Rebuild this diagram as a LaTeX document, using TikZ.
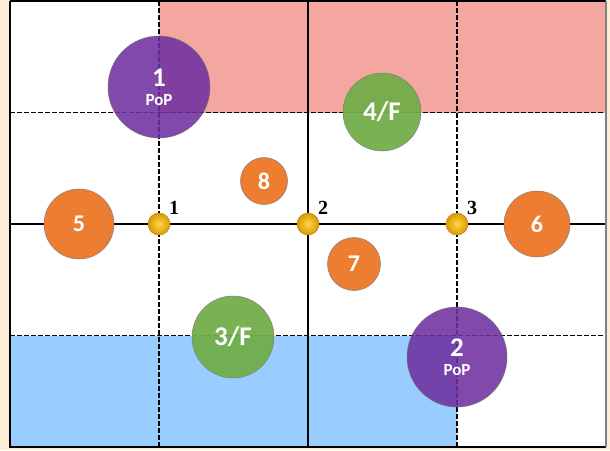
\documentclass[tikz,border=0pt]{standalone}
\usepackage{fontspec}
\setmainfont{Carlito}
\newfontfamily\serifnum{Liberation Serif}
\definecolor{cream}{HTML}{FDEDD6}
\definecolor{redzone}{HTML}{F4A6A0}
\definecolor{bluezone}{HTML}{99CCFF}
\definecolor{pop}{HTML}{7030A0}
\definecolor{fgreen}{HTML}{70AD47}
\definecolor{oran}{HTML}{ED7D31}
\definecolor{dotin}{HTML}{FFD54A}
\definecolor{dotout}{HTML}{D99A00}
\begin{document}
\begin{tikzpicture}[x=1pt,y=-1pt,
  grid/.style={black, line width=1.3pt},
  dgrid/.style={black, line width=1.3pt, dash pattern=on 4.5pt off 2.5pt},
  bigc/.style={circle, draw=black!55, line width=0.5pt, fill=pop, fill opacity=0.88, text opacity=1, text=white, font=\bfseries, align=center, inner sep=0pt},
  greenc/.style={circle, draw=black!50, line width=0.5pt, fill=fgreen, fill opacity=0.93, text opacity=1, text=white, font=\bfseries\fontsize{27}{28}\selectfont, inner sep=0pt},
  orc/.style={circle, draw=black!50, line width=0.5pt, fill=oran, text=white, font=\bfseries\fontsize{24}{26}\selectfont, inner sep=0pt},
  dotn/.style={circle, draw=dotout!80!black, line width=0.4pt, inner color=dotin, outer color=dotout, minimum size=22pt, inner sep=0pt},
  numlab/.style={font=\serifnum\bfseries\fontsize{20}{21}\selectfont, text=black}]
\useasboundingbox (0,0) rectangle (610,450);
\fill[cream] (0,0) rectangle (610,450);
\fill[white] (10,1) rectangle (606,447);
\fill[redzone] (159,1) rectangle (606,112.5);
\fill[bluezone] (10,335.5) rectangle (457,447);
% grid
\draw[dgrid] (10,112.5) -- (606,112.5);
\draw[dgrid] (10,335.5) -- (606,335.5);
\draw[dgrid] (159,1) -- (159,447);
\draw[dgrid] (457,1) -- (457,447);
\draw[grid] (10,224) -- (606,224);
\draw[grid] (308,1) -- (308,447);
% frame
\draw[black, line width=2pt] (10,1) -- (606,1);
\draw[black, line width=2pt] (10,1) -- (10,447) -- (606,447);
\draw[black!50, line width=2pt] (606,1) -- (606,447);
% circles
\node[bigc, minimum size=102pt] (p1) at (159,87) {\fontsize{27}{27}\selectfont 1\\[7pt]\fontsize{17}{17}\selectfont PoP};
\node[bigc, minimum size=100pt] (p2) at (457,357) {\fontsize{27}{27}\selectfont 2\\[7pt]\fontsize{17}{17}\selectfont PoP};
\node[greenc, minimum size=78pt] (f4) at (382,112) {4/F};
\node[greenc, minimum size=82pt] (f3) at (233,337) {3/F};
\node[orc, minimum size=70pt] (c5) at (79,224) {5};
\node[orc, minimum size=66pt] (c6) at (537,224) {6};
\node[orc, minimum size=47pt] (c8) at (264,181) {8};
\node[orc, minimum size=53pt] (c7) at (354,264) {7};
% dots
\node[dotn] (d1) at (159,224) {};
\node[dotn] (d2) at (308,224) {};
\node[dotn] (d3) at (457,224) {};
\node[numlab, anchor=south west, inner sep=0pt] (l1) at ([xshift=2pt,yshift=1pt]d1.north east) {1};
\node[numlab, anchor=south west, inner sep=0pt] (l2) at ([xshift=2pt,yshift=1pt]d2.north east) {2};
\node[numlab, anchor=south west, inner sep=0pt] (l3) at ([xshift=2pt,yshift=1pt]d3.north east) {3};
\end{tikzpicture}
\end{document}
